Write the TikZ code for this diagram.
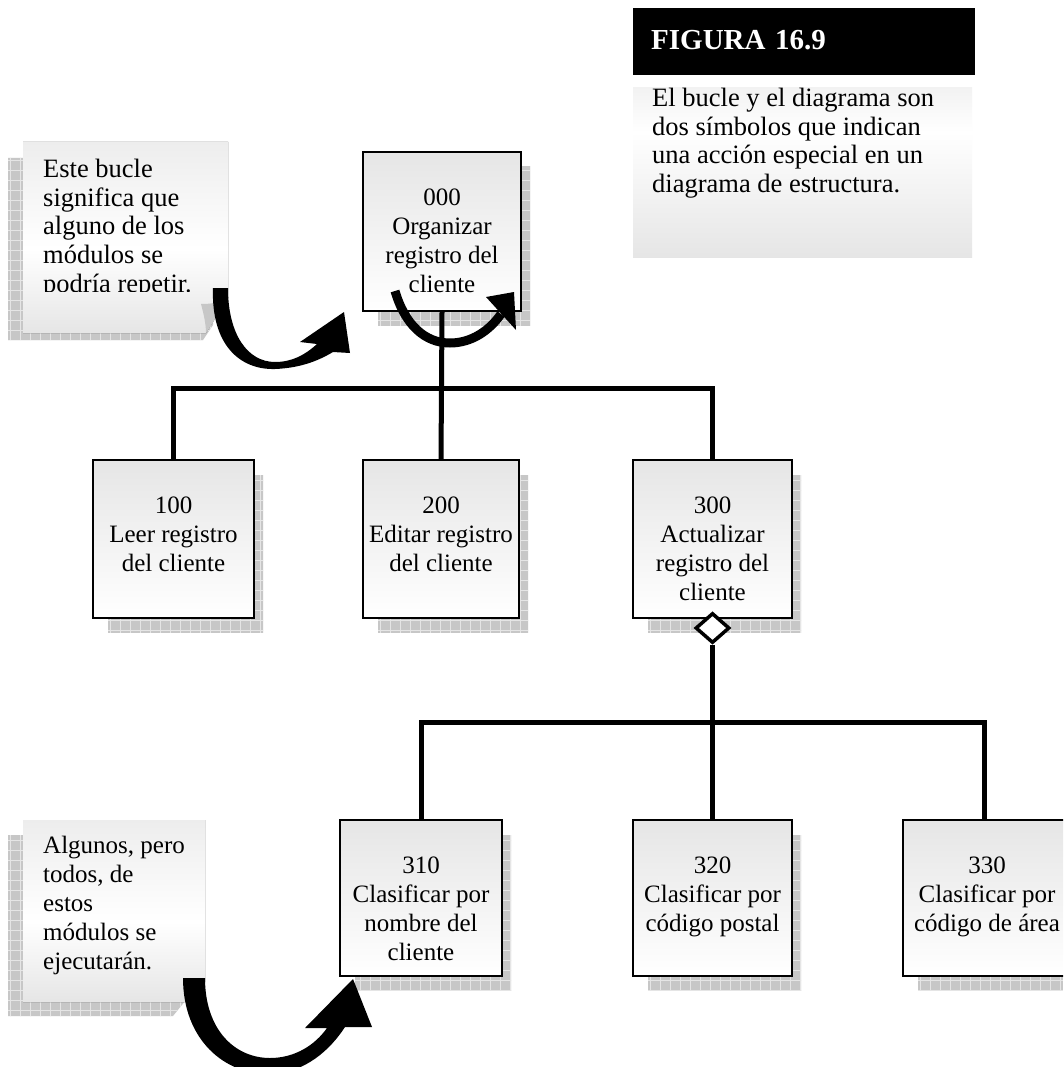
\documentclass[tikz,border=0pt]{standalone}
\usepackage{fontspec}
\setmainfont{Liberation Serif}
\usetikzlibrary{shapes.geometric}

\definecolor{boxtop}{gray}{0.90}
\definecolor{shA}{gray}{0.90}
\definecolor{shB}{gray}{0.93}
\definecolor{shC}{gray}{0.95}
\definecolor{shadowgray}{gray}{0.78}
\definecolor{gridgray}{gray}{0.90}

% paper-like gradients (bottom to top)
\pgfdeclareverticalshading{noteshade}{100bp}{color(0bp)=(shA); color(25bp)=(shA); color(47bp)=(white); color(75bp)=(shB); color(100bp)=(shB)}
\pgfdeclareverticalshading{infoshade}{100bp}{color(0bp)=(shA); color(25bp)=(shA); color(62bp)=(white); color(75bp)=(shC); color(100bp)=(shC)}

\tikzset{
  modbox/.style={draw, line width=2pt, top color=boxtop, bottom color=white,
                 inner sep=0pt, minimum width=#1, minimum height=158pt},
  boxtext/.style={font=\fontsize{25}{29}\selectfont, inner sep=0pt, align=center, anchor=north},
  notetext/.style={font=\fontsize{25}{29}\selectfont, inner sep=0pt, align=left, anchor=north west},
  bignote/.style={notetext, font=\fontsize{26.5}{28.7}\selectfont},
  conn/.style={line width=5pt},
  gridlines/.style={draw=gridgray, line width=0.8pt},
}

% hatched drop shadow inside a clipping path
\newcommand\hatchshadow[1]{%
  \begin{scope}
    \clip #1;
    \fill[shadowgray] (0,0) rectangle (1063,1067);
    \draw[gridlines] (0,0) grid[step=10pt] (1063,1067);
  \end{scope}}

\begin{document}
\begin{tikzpicture}[x=1pt,y=-1pt]
\useasboundingbox (0,0) rectangle (1063,1067);
\clip (0,0) rectangle (1063,1067);
\fill[white] (0,0) rectangle (1063,1067);

% ---- title bar and caption ----
\node[fill=black, text=white, font=\bfseries\fontsize{29}{34}\selectfont,
      minimum height=67pt, text width=306pt, inner xsep=18pt, inner ysep=0pt,
      align=left, anchor=north west] (fig) at (633,8) {\raisebox{3pt}{FIGURA 16.9}};
\fill[shading=infoshade] (633,88) rectangle (972,257);
\node[bignote] (cap) at (652,88) {El bucle y el diagrama son\\dos símbolos que indican\\una acción especial en un\\diagrama de estructura.};

% ---- drop shadows ----
\hatchshadow{(378,167) rectangle (530,325)}
\hatchshadow{(108,475) rectangle (263,632)}
\hatchshadow{(378,475) rectangle (528,632)}
\hatchshadow{(648,475) rectangle (801,632)}
\hatchshadow{(355,835) rectangle (511,990)}
\hatchshadow{(648,835) rectangle (801,990)}
\hatchshadow{(918,835) rectangle (1075,990)}
\hatchshadow{(8,158) -- (213,158) -- (213,325) -- (203,340) -- (8,340) -- cycle}
\hatchshadow{(8,835) -- (190,835) -- (190,995) -- (173,1016) -- (8,1016) -- cycle}

% ---- sticky notes ----
\fill[shading=noteshade] (23,142) -- (228,142) -- (228,298) -- (206,333) -- (23,333) -- cycle;
\fill[black!22] (228,298) .. controls (220,303) and (210,304) .. (201,304) .. controls (204,315) and (206,325) .. (206,333) -- cycle;
\begin{scope}
  \clip (0,0) rectangle (1063,291);
  \node[bignote] (n1) at (43,159) {Este bucle\\significa que\\alguno de los\\módulos se\\podría repetir.};
\end{scope}
\fill[shading=noteshade] (23,820) -- (205,820) -- (205,982) -- (185,1002) -- (23,1002) -- cycle;
\node[notetext] (n2) at (43,836) {Algunos, pero\\todos, de\\estos\\módulos se\\ejecutarán.};

% ---- connectors ----
\coordinate (j1) at (442,388);
\coordinate (j2) at (712.5,722);

% ---- module boxes ----
\node[modbox=158pt, minimum height=159pt] (b000) at (442,231.5) {};
\node[modbox=161pt] (b100) at (173.5,539) {};
\node[modbox=156pt] (b200) at (441,539) {};
\node[modbox=159pt] (b300) at (712.5,539) {};
\node[modbox=162pt, minimum height=156pt] (b310) at (421,898) {};
\node[modbox=159pt, minimum height=156pt] (b320) at (712.5,898) {};
\node[modbox=163pt, minimum height=156pt] (b330) at (984.5,898) {};

\draw[conn] (b100.north) |- (j1) -| (b300.north);
\draw[conn] (b000.south) -- (b200.north);
\draw[conn] (b310.north) |- (j2) -| (b330.north);

\node[boxtext] (t000) at (442,188.5) {000\\Organizar\\registro del\\cliente};
\node[boxtext] (t100) at (173.5,496.5) {100\\Leer registro\\del cliente};
\node[boxtext] (t200) at (441,496.5) {200\\Editar registro\\del cliente};
\node[boxtext] (t300) at (712.5,496.5) {300\\Actualizar\\registro del\\cliente};
\node[boxtext] (t310) at (421,856.5) {310\\Clasificar por\\nombre del\\cliente};
\node[boxtext] (t320) at (712.5,856.5) {320\\Clasificar por\\código postal};
\node[boxtext] (t330) at (987,856.5) {330\\Clasificar por\\código de área};

% ---- conditional diamond ----
\node[diamond, draw, line width=3.5pt, fill=white, minimum width=34pt,
      minimum height=30pt, inner sep=0pt] (dia) at (712.5,628) {};
\draw[conn] (dia.south) -- (b320.north);

% ---- loop symbol on module 000 ----
\draw[line width=9pt] (395,291) .. controls (405,325) and (425,343) .. (450,343)
      .. controls (472,343) and (490,330) .. (501,314);
\fill (486,297) -- (514,292) -- (516,330) -- cycle;

% ---- curved block arrows from the notes ----
\fill (213,288) .. controls (211,345) and (240,370) .. (275,369)
      .. controls (300,368) and (318,361) .. (333,352)
      -- (350,353) -- (344,312) -- (300,342) -- (317,344)
      .. controls (305,355) and (292,362) .. (275,362)
      .. controls (248,362) and (228,335) .. (228,288) -- cycle;
\fill (183,978) .. controls (183,1040) and (225,1075) .. (270,1074)
      .. controls (305,1073) and (330,1050) .. (345,1027)
      -- (372,1027) -- (353,979) -- (305,1028) -- (327,1028)
      .. controls (315,1045) and (295,1058) .. (270,1058)
      .. controls (235,1058) and (205,1030) .. (205,978) -- cycle;
\end{tikzpicture}
\end{document}
